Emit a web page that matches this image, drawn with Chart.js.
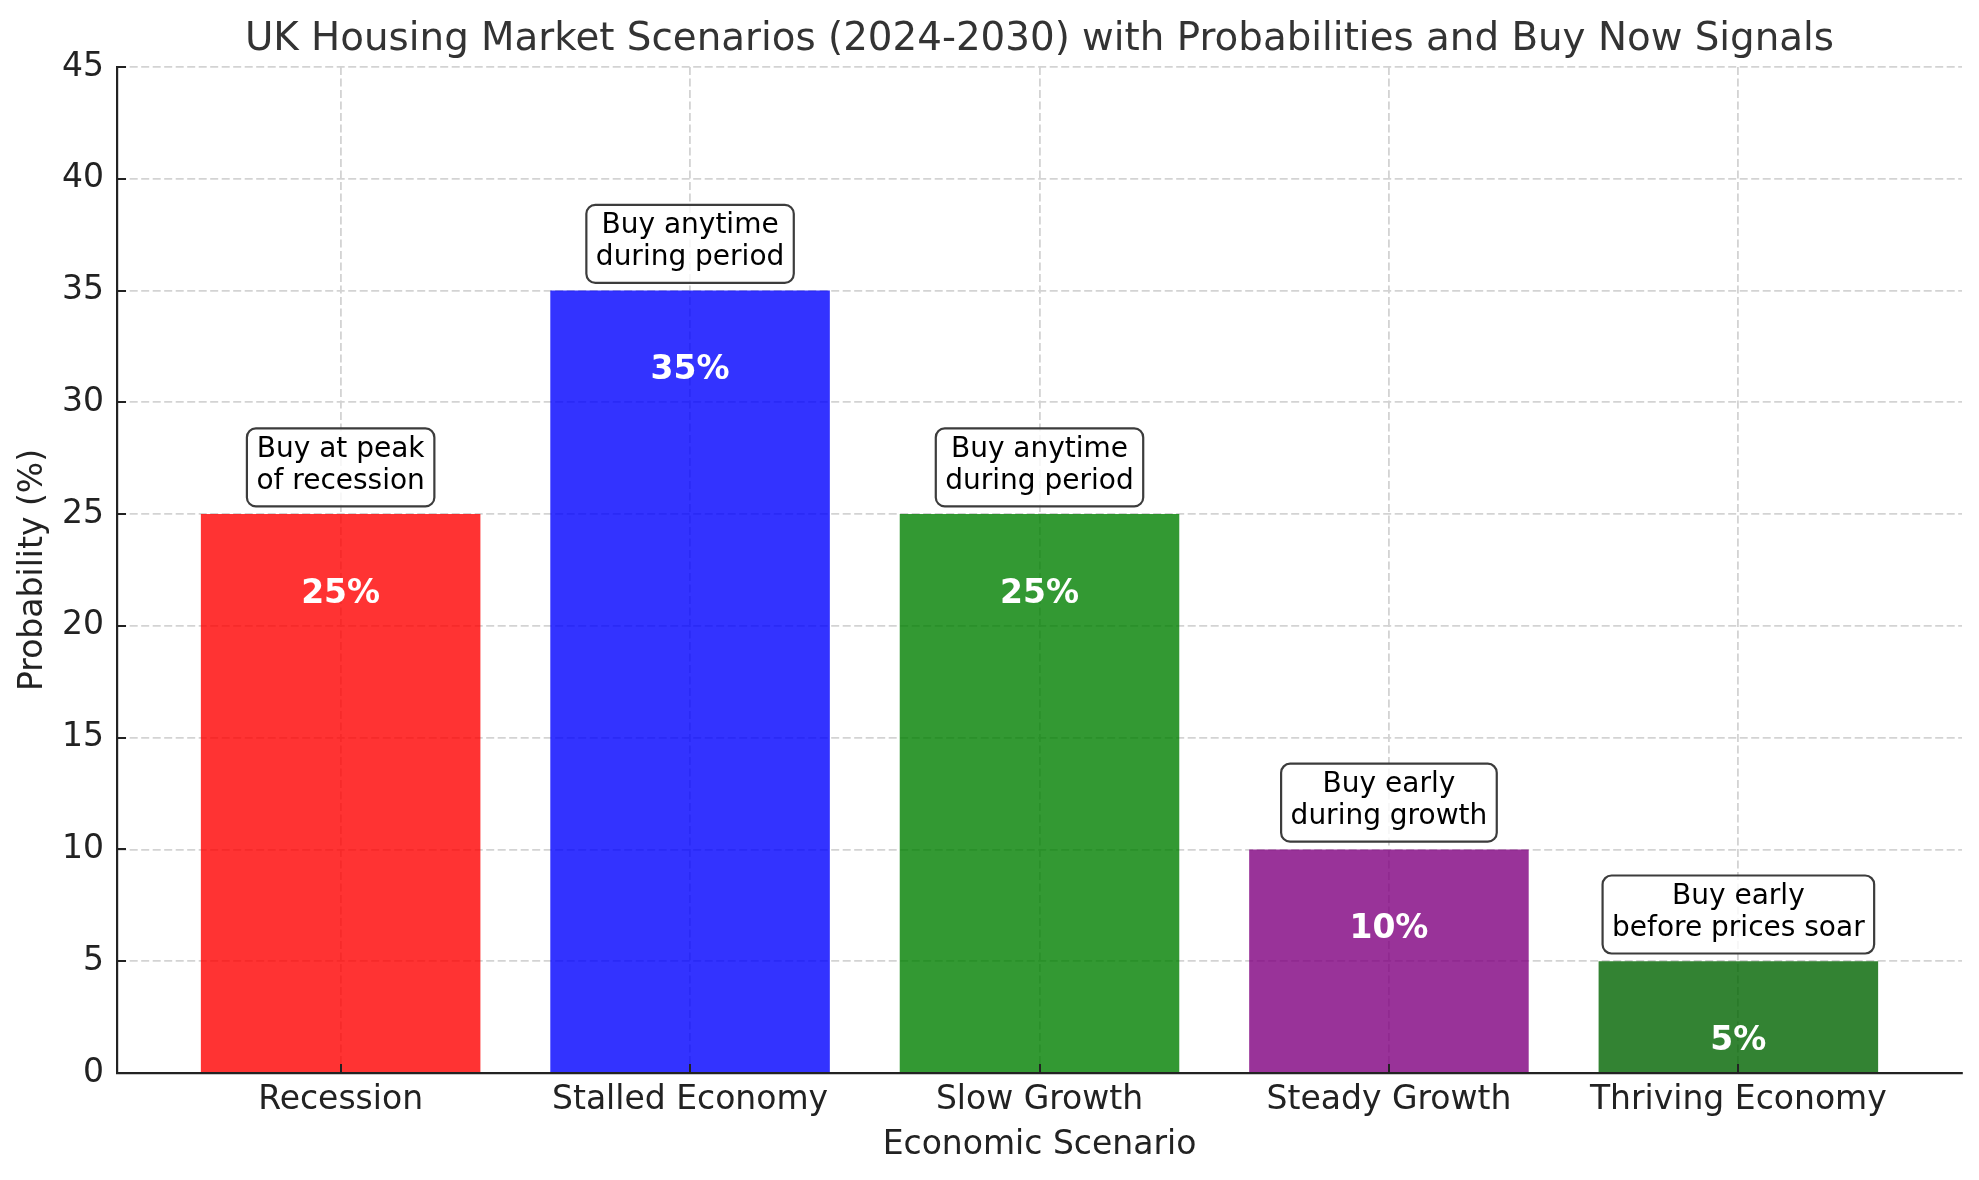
<!DOCTYPE html>
<html>
<head>
<meta charset="utf-8">
<script src="https://cdn.jsdelivr.net/npm/chart.js@4.4.1/dist/chart.umd.min.js"></script>
<style>
html,body{margin:0;padding:0;background:#fff;}
#wrap{width:1979px;height:1180px;}
</style>
</head>
<body>
<div id="wrap"><canvas id="c" width="1979" height="1180"></canvas></div>
<script>
const categories = ['Recession', 'Stalled Economy', 'Slow Growth', 'Steady Growth', 'Thriving Economy'];
const probabilities = [25, 35, 25, 10, 5];
const barColors = ['rgba(255,0,0,0.8)', 'rgba(0,0,255,0.8)', 'rgba(0,128,0,0.8)', 'rgba(128,0,128,0.8)', 'rgba(0,100,0,0.8)'];
const signals = [
  ['Buy at peak', 'of recession'],
  ['Buy anytime', 'during period'],
  ['Buy anytime', 'during period'],
  ['Buy early', 'during growth'],
  ['Buy early', 'before prices soar']
];
const yTickValues = [0, 5, 10, 15, 20, 25, 30, 35, 40, 45];

const FONT = "'DejaVu Sans', 'Liberation Sans', sans-serif";

const overlay = {
  id: 'overlay',
  afterDraw(chart) {
    const ctx = chart.ctx;
    const xs = chart.scales.x, ys = chart.scales.y;
    const meta = chart.getDatasetMeta(0);
    ctx.save();
    // inward ticks
    ctx.strokeStyle = '#222';
    ctx.lineWidth = 2;
    ctx.beginPath();
    yTickValues.forEach(v => {
      const py = Math.round(ys.getPixelForValue(v));
      ctx.moveTo(xs.left, py);
      ctx.lineTo(xs.left + 9, py);
    });
    categories.forEach((c, i) => {
      const px = Math.round(xs.getPixelForValue(i));
      ctx.moveTo(px, ys.bottom);
      ctx.lineTo(px, ys.bottom - 9);
    });
    ctx.stroke();

    // percentage labels
    ctx.fillStyle = '#ffffff';
    ctx.font = "bold 33px " + FONT;
    ctx.textAlign = 'center';
    ctx.textBaseline = 'middle';
    probabilities.forEach((v, i) => {
      const bar = meta.data[i];
      ctx.fillText(v + '%', bar.x, ys.getPixelForValue(v - 3.5) + 2);
    });

    // signal boxes
    ctx.font = "28px " + FONT;
    probabilities.forEach((v, i) => {
      const bar = meta.data[i];
      const lines = signals[i];
      const cy = ys.getPixelForValue(v + 2);
      const w = Math.max(...lines.map(l => ctx.measureText(l).width)) + 19;
      const h = 78;
      const bx = bar.x - w / 2, by = cy - 2 - h / 2;
      ctx.beginPath();
      ctx.roundRect(bx, by, w, h, 9);
      ctx.fillStyle = 'rgba(255,255,255,0.82)';
      ctx.fill();
      ctx.lineWidth = 2.2;
      ctx.strokeStyle = '#3c3c3c';
      ctx.stroke();
      ctx.fillStyle = '#000000';
      ctx.fillText(lines[0], bar.x, cy - 4 - 16);
      ctx.fillText(lines[1], bar.x, cy - 4 + 16);
    });
    ctx.restore();
  }
};

new Chart(document.getElementById('c'), {
  type: 'bar',
  data: {
    datasets: [{
      data: categories.map((c, i) => ({ x: i, y: probabilities[i] })),
      backgroundColor: barColors,
      borderWidth: 0,
      barPercentage: 1.0,
      categoryPercentage: 0.8
    }]
  },
  options: {
    responsive: false,
    animation: false,
    devicePixelRatio: 1,
    layout: { padding: { left: 0, right: 17, top: 0, bottom: 0 } },
    plugins: {
      legend: { display: false },
      tooltip: { enabled: false },
      title: {
        display: true,
        text: 'UK Housing Market Scenarios (2024-2030) with Probabilities and Buy Now Signals',
        font: { family: FONT, size: 38.8, weight: 'normal' },
        color: '#333333',
        padding: { top: 16.5, bottom: 3.9 },
        fullSize: false
      }
    },
    scales: {
      x: {
        type: 'linear',
        min: -0.64,
        max: 4.64,
        offset: false,
        z: 1,
        afterBuildTicks(s) { s.ticks = categories.map((c, i) => ({ value: i })); },
        afterFit(s) { s.height = 107; },
        ticks: {
          callback: (v) => categories[v],
          autoSkip: false,
          maxRotation: 0,
          minRotation: 0,
          padding: 8,
          color: '#222222',
          font: { family: FONT, size: 33 }
        },
        grid: { color: '#d3d3d3', lineWidth: 1.8, drawTicks: false, offset: false },
        border: { display: true, color: '#222222', width: 2.2, dash: [8, 3.5] },
        title: {
          display: true,
          text: 'Economic Scenario',
          color: '#222222',
          font: { family: FONT, size: 33 },
          padding: { top: 0, bottom: 15 }
        }
      },
      y: {
        min: 0,
        max: 45,
        z: 1,
        afterBuildTicks(s) { s.ticks = yTickValues.map(v => ({ value: v })); },
        afterFit(s) { s.width = 117; },
        ticks: {
          stepSize: 5,
          padding: 13,
          color: '#222222',
          font: { family: FONT, size: 33 }
        },
        grid: { color: '#d3d3d3', lineWidth: 1.8, drawTicks: false },
        border: { display: true, color: '#222222', width: 2.2, dash: [8, 3.5] },
        title: {
          display: true,
          text: 'Probability (%)',
          color: '#222222',
          font: { family: FONT, size: 33 },
          padding: { top: 14, bottom: 0 }
        }
      }
    }
  },
  plugins: [overlay]
});
</script>
</body>
</html>
